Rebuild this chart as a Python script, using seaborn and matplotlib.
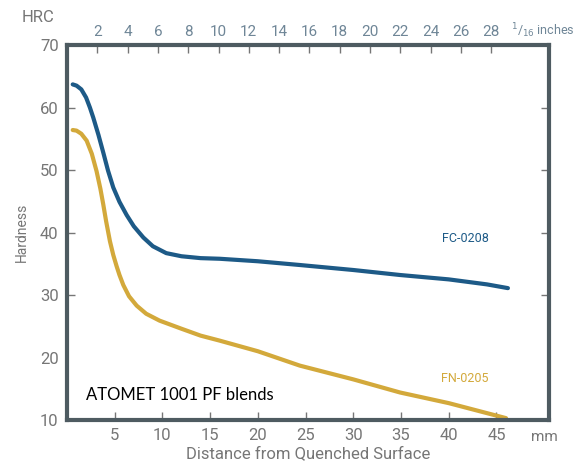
import pandas as pd
import seaborn as sns
import matplotlib.pyplot as plt

# distance from quenched surface (mm) and hardness (HRC)
fc_mm = [0.6, 1.0, 1.5, 2.0, 2.4, 2.75, 3.3, 3.8, 4.3, 4.85, 5.5, 6.25, 7.0, 8.0, 9.0,
         10.4, 12.0, 14.0, 16.0, 20.0, 24.4, 30.0, 34.9, 40.0, 44.0, 46.2]
fc_hrc = [63.7, 63.5, 62.9, 61.6, 60.0, 58.4, 55.6, 52.8, 49.9, 47.2, 44.9, 42.8, 41.0, 39.2, 37.8,
          36.7, 36.2, 35.9, 35.8, 35.4, 34.8, 34.0, 33.2, 32.5, 31.7, 31.1]

fn_mm = [0.6, 1.0, 1.5, 2.06, 2.6, 3.1, 3.5, 3.8, 4.1, 4.5, 4.85, 5.2, 5.5, 5.9, 6.5, 7.3, 8.3,
         9.7, 12.0, 14.0, 16.0, 20.0, 24.4, 30.0, 34.9, 40.0, 46.0]
fn_hrc = [56.4, 56.3, 55.8, 54.7, 52.6, 49.8, 47.0, 44.5, 41.8, 38.6, 36.4, 34.6, 33.2, 31.6, 29.8, 28.3, 27.0,
          25.9, 24.6, 23.5, 22.7, 21.0, 18.7, 16.5, 14.4, 12.7, 10.3]

mm_ticks = [5, 10, 15, 20, 25, 30, 35, 40, 45]
inch16_ticks = list(range(2, 29, 2))
hrc_ticks = [10, 20, 30, 40, 50, 60, 70]

BLUE = "#1d5a87"
GOLD = "#d3a93b"
FRAME = "#4e5b61"
GREY = "#767676"
TOPGREY = "#6f8697"


def main():
    sns.set_style("white")
    plt.rcParams['font.family'] = ['Roboto', 'DejaVu Sans']

    df = pd.concat([
        pd.DataFrame({"mm": fc_mm, "HRC": fc_hrc, "blend": "FC-0208"}),
        pd.DataFrame({"mm": fn_mm, "HRC": fn_hrc, "blend": "FN-0205"}),
    ])

    fig = plt.figure(figsize=(5.8, 4.66), dpi=100)
    ax = fig.add_axes([0.1155, 0.0987, 0.831, 0.8047])
    sns.lineplot(data=df, x="mm", y="HRC", hue="blend", sort=False,
                 palette={"FC-0208": BLUE, "FN-0205": GOLD},
                 linewidth=3, legend=False, ax=ax,
                 solid_capstyle="round", solid_joinstyle="round")

    ax.set_xlim(0, 50.5)
    ax.set_ylim(10, 70)
    ax.set_xticks(mm_ticks)
    ax.set_yticks(hrc_ticks)
    ax.set_xlabel("Distance from Quenched Surface", fontsize=12, color=GREY, labelpad=2)
    ax.set_ylabel("Hardness", fontsize=10, color=GREY, labelpad=8)

    for s in ax.spines.values():
        s.set_color(FRAME)
        s.set_linewidth(3)
    ax.tick_params(axis="both", direction="in", length=6, width=1, color=GREY,
                   labelcolor=GREY, labelsize=12, pad=6)
    ax.tick_params(axis="y", right=True, left=True)
    ax.tick_params(axis="x", bottom=True)
    # no tick marks on the frame corners, labels stay
    for t in ax.yaxis.get_major_ticks():
        if t.get_loc() in (10, 70):
            t.tick1line.set_visible(False)
            t.tick2line.set_visible(False)

    top = ax.secondary_xaxis("top", functions=(lambda x: x / 1.5875, lambda x: x * 1.5875))
    top.set_xticks(inch16_ticks)
    top.tick_params(direction="in", length=6, width=1, color=GREY,
                    labelcolor=TOPGREY, labelsize=11, pad=4)
    top.spines["top"].set_visible(False)

    fig.text(0.038, 0.962, "HRC", fontsize=12, color=GREY, va="center")
    fig.text(0.881, 0.935, r"$^{1}$/$_{16}$ inches", fontsize=9, color=TOPGREY, va="center")
    fig.text(0.915, 0.062, "mm", fontsize=11, color=GREY, va="center")

    ax.text(41.7, 39.0, "FC-0208", color=BLUE, fontsize=9, ha="center", va="center")
    ax.text(41.7, 16.6, "FN-0205", color=GOLD, fontsize=9, ha="center", va="center")
    ax.text(2.0, 14.0, "ATOMET 1001 PF blends", color="black", fontsize=12,
            family=['Lato', 'DejaVu Sans'], ha="left", va="center")

    fig.savefig("out.png", dpi=100)


if __name__ == "__main__":
    main()
